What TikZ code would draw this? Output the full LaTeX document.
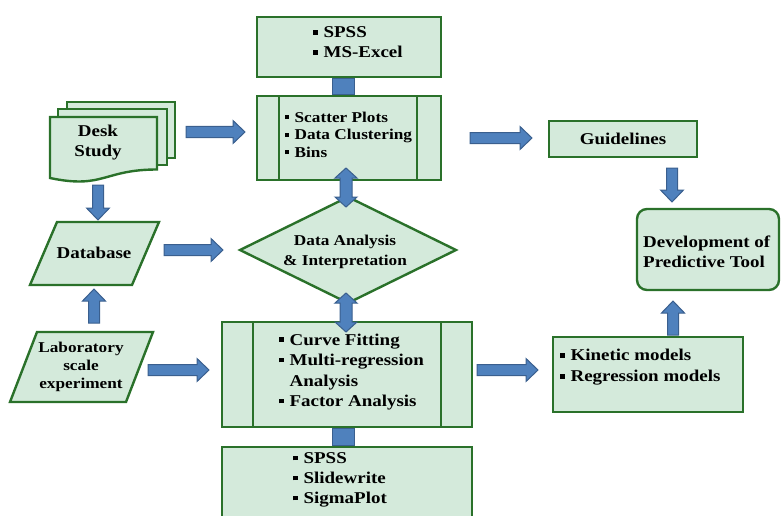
\documentclass[tikz,border=0pt]{standalone}
\usepackage{fontspec}
\setmainfont{Liberation Serif}[FakeStretch=1.15]
\usetikzlibrary{calc,shapes.geometric}
\definecolor{bfill}{HTML}{D4EADB}
\definecolor{bline}{HTML}{2A712A}
\definecolor{afill}{HTML}{4F81BD}
\definecolor{aline}{HTML}{3A5F8E}
\newcommand\bul{\raisebox{0.2em}{\rule{0.27em}{0.27em}}\hspace{0.36em}}
\newcommand\barr[2]{%
  \draw[barrow] let \p1=(#1), \p2=(#2), \n1={veclen(\x2-\x1,\y2-\y1)} in
   [shift={(\p1)}, rotate={atan2(\y2-\y1,\x2-\x1)}]
   (0pt,-5.5pt) -- ({\n1-12pt},-5.5pt) -- ({\n1-12pt},-11.5pt) -- ({\n1+0pt},0pt)
   -- ({\n1-12pt},11.5pt) -- ({\n1-12pt},5.5pt) -- (0pt,5.5pt) -- cycle;}
\newcommand\dbarr[2]{%
  \draw[barrow] let \p1=(#1), \p2=(#2), \n1={veclen(\x2-\x1,\y2-\y1)} in
   [shift={(\p1)}, rotate={atan2(\y2-\y1,\x2-\x1)}]
   (0pt,0pt) -- (10pt,11pt) -- (10pt,6pt) -- ({\n1-10pt},6pt) -- ({\n1-10pt},11pt)
   -- ({\n1+0pt},0pt) -- ({\n1-10pt},-11pt) -- ({\n1-10pt},-6pt) -- (10pt,-6pt)
   -- (10pt,-11pt) -- cycle;}
\begin{document}
\begin{tikzpicture}[x=1pt,y=-1pt,
  box/.style={draw=bline, fill=bfill, line width=2.4pt, inner sep=0pt, outer sep=0pt},
  pline/.style={draw=bline, line width=2.4pt},
  barrow/.style={draw=aline, fill=afill, line width=1pt, line join=miter},
  tA/.style={inner sep=0pt, font=\bfseries\fontsize{16.5}{20}\selectfont},
  tB/.style={inner sep=0pt, font=\bfseries\fontsize{15}{17.5}\selectfont}]
\useasboundingbox (0,0) rectangle (781,516);
\clip (0,0) rectangle (781,516);

% ---- centre column
\node[box, minimum width=184, minimum height=60, anchor=north west] (tools1) at (257,17) {};
\node[tA, align=left, anchor=west] (tools1t) at (313,42.5) {\bul SPSS\\\bul MS-Excel};

\node[box, minimum width=184, minimum height=84, anchor=north west] (scatter) at (257,96) {};
\draw[pline] ($(scatter.north west)+(22,0)$) -- ($(scatter.south west)+(22,0)$);
\draw[pline] ($(scatter.north east)+(-24,0)$) -- ($(scatter.south east)+(-24,0)$);
\node[tB, align=left, anchor=west] (scattert) at (285,134.5) {\bul Scatter Plots\\\bul Data Clustering\\\bul Bins};

\node[box, diamond, minimum width=216, minimum height=106] (dai) at (348,250) {};
\node[tB, align=center, font=\bfseries\fontsize{15}{20}\selectfont] (dait) at (345,252) {Data Analysis\\\& Interpretation};

\node[box, minimum width=250, minimum height=105, anchor=north west] (curve) at (222,322) {};
\draw[pline] ($(curve.north west)+(31,0)$) -- ($(curve.south west)+(31,0)$);
\draw[pline] ($(curve.north east)+(-31,0)$) -- ($(curve.south east)+(-31,0)$);
\node[tA, align=left, anchor=west, font=\bfseries\fontsize{16.5}{20.5}\selectfont] (curvet) at (279,372)
  {\bul Curve Fitting\\\bul Multi-regression\\\hphantom{\bul}Analysis\\\bul Factor Analysis};

\node[box, minimum width=250, minimum height=85, anchor=north west] (tools2) at (222,447) {};
\node[tA, align=left, anchor=west] (tools2t) at (293,480) {\bul SPSS\\\bul Slidewrite\\\bul SigmaPlot};

% ---- left column
\draw[box] (67,102) rectangle (175,158);
\draw[box] (58,109) rectangle (167,165);
\draw[box] (50,117) -- (157,117) -- (157,169.5) .. controls (103.5,169.5) and (103.5,189.3) .. (50,178) -- cycle;
\node[tA, align=center] (desk) at (98,143) {Desk\\Study};

\draw[box] (57,222) -- (159,222) -- (132,285) -- (30,285) -- cycle;
\node[tA] (db) at (94,253) {Database};

\draw[box] (37,332) -- (153,332) -- (126,402) -- (10,402) -- cycle;
\node[tB, align=center, font=\bfseries\fontsize{15}{18}\selectfont] (lab) at (81,367) {Laboratory\\scale\\experiment};

% ---- right column
\node[box, tA, minimum width=148, minimum height=36, anchor=north west] (guide) at (549,121) {Guidelines};

\node[box, rounded corners=10pt, minimum width=142, minimum height=81, anchor=north west] (dev) at (637,209) {};
\node[tA, align=left, anchor=west] (devt) at (643,252) {Development of\\Predictive Tool};

\node[box, minimum width=190, minimum height=75, anchor=north west] (kin) at (553,337) {};
\node[tA, align=left, anchor=west, font=\bfseries\fontsize{16.5}{21}\selectfont] (kint) at (560,367.5) {\bul Kinetic models\\\bul Regression models};

% ---- connectors
\draw[barrow] ($(tools1.south)+(-17,1.2)$) rectangle ($(scatter.north)+(5,-1.2)$);
\draw[barrow] ($(curve.south)+(-15,1.2)$) rectangle ($(tools2.north)+(7,-1.2)$);

\barr{$(desk)+(88,-11)$}{$(scatter.west)+(-12,-6)$}
\barr{$(desk)+(0,42)$}{$(db)+(4,-33)$}
\barr{$(db)+(70,-3)$}{$(dai.west)+(-17,0)$}
\barr{$(lab)+(13,-44)$}{$(db)+(0,36)$}
\barr{$(lab)+(67,3)$}{$(curve.west)+(-13,-4.5)$}
\barr{$(scatter.east)+(29,0)$}{$(guide.west)+(-17,-1)$}
\barr{$(guide.south)+(49,11)$}{$(dev.north)+(-36,-7)$}
\barr{$(curve.east)+(5,-4.5)$}{$(kin.west)+(-15,-4.5)$}
\barr{$(kin.north)+(25,-2)$}{$(dev.south)+(-35,11)$}
\dbarr{$(scatter.south)+(-3,-12)$}{$(dai.north)+(-2,10)$}
\dbarr{$(dai.south)+(-2,-10)$}{$(curve.north)+(-1,10)$}
\end{tikzpicture}
\end{document}
